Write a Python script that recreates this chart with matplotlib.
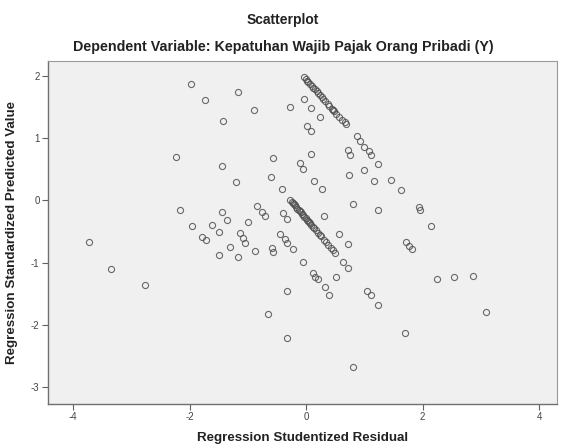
"""
SPSS style scatterplot: studentized residual vs standardized predicted value
"""

import matplotlib
matplotlib.use("Agg")
import matplotlib.pyplot as plt


# scattered points (residual, predicted)
resid_scatter = [
    -3.73, -3.35, -2.77, -2.24, -2.17, -1.98, -1.74, -1.95, -1.62, -1.45,
    -1.35, -1.50, -1.78, -1.72, -1.30, -1.50, -1.16, -1.14, -1.09, -1.05,
    -0.99, -0.85, -0.76, -0.71, -0.88, -0.59, -0.56, -0.45, -0.37, -0.32,
    -0.23, -0.39, -0.33, -0.06, 0.11, 0.15, 0.20, 0.32, 0.40, -0.32,
    -0.66, -0.32, 0.81, -1.45, -1.21, -1.42, -1.16, -0.90, -0.56, -0.61,
    -0.42, -0.11, -0.06, 0.09, 0.13, 0.27, -0.04, 0.09, -0.27, 0.23,
    0.01, 0.08, 0.87, 0.92, 1.00, 1.07, 1.12, 0.71, 0.76, 1.24,
    0.99, 0.73, 1.16, 1.45, 1.62, 1.93, 1.95, 2.15, 0.80, 1.23,
    0.30, 0.56, 0.71, 0.63, 0.71, 0.52, 1.05, 1.12, 1.24, 1.72,
    1.76, 1.81, 2.24, 2.53, 2.87, 3.08, 1.69,
]
pred_scatter = [
    -0.67, -1.10, -1.36, 0.70, -0.15, 1.88, 1.62, -0.41, -0.40, -0.19,
    -0.31, -0.51, -0.59, -0.64, -0.75, -0.88, -0.91, -0.52, -0.60, -0.69,
    -0.35, -0.09, -0.19, -0.25, -0.81, -0.77, -0.83, -0.54, -0.62, -0.69,
    -0.78, -0.20, -0.30, -0.99, -1.17, -1.23, -1.27, -1.40, -1.52, -1.46,
    -1.83, -2.22, -2.69, 0.56, 0.30, 1.28, 1.75, 1.46, 0.69, 0.38,
    0.19, 0.60, 0.51, 0.75, 0.31, 0.19, 1.64, 1.49, 1.51, 1.35,
    1.20, 1.12, 1.04, 0.96, 0.86, 0.80, 0.73, 0.81, 0.73, 0.59,
    0.49, 0.41, 0.31, 0.33, 0.17, -0.11, -0.15, -0.41, -0.06, -0.15,
    -0.25, -0.54, -0.70, -0.99, -1.09, -1.23, -1.46, -1.52, -1.69, -0.67,
    -0.73, -0.78, -1.27, -1.23, -1.22, -1.80, -2.14,
]

# upper dense diagonal band
resid_band1 = [-0.03, 0.00, 0.02, 0.04, 0.07, 0.10, 0.12, 0.15, 0.18, 0.20, 0.24,
               0.27, 0.29, 0.33, 0.37, 0.40, 0.44, 0.46, 0.48, 0.52, 0.57, 0.62,
               0.66, 0.69]
pred_band1 = [1.99, 1.96, 1.93, 1.91, 1.88, 1.85, 1.82, 1.79, 1.76, 1.73, 1.70,
              1.66, 1.64, 1.60, 1.56, 1.52, 1.48, 1.46, 1.44, 1.40, 1.35, 1.30,
              1.26, 1.23]

# lower dense diagonal band
resid_band2 = [-0.27, -0.25, -0.23, -0.21, -0.19, -0.17, -0.15, -0.13, -0.11,
               -0.09, -0.07, -0.05, -0.03, -0.01, 0.01, 0.03, 0.05, 0.07, 0.09,
               0.11, 0.14, 0.17, 0.20, 0.23, 0.26, 0.30, 0.34, 0.38, 0.42, 0.46,
               0.50]
pred_band2 = [0.01, -0.02, -0.04, -0.06, -0.08, -0.11, -0.13, -0.15, -0.17,
              -0.19, -0.22, -0.24, -0.26, -0.28, -0.31, -0.33, -0.35, -0.37,
              -0.40, -0.42, -0.45, -0.48, -0.52, -0.55, -0.58, -0.63, -0.67,
              -0.71, -0.76, -0.80, -0.85]

x_ticks = [-4, -2, 0, 2, 4]
y_ticks = [-3, -2, -1, 0, 1, 2]

TITLE = "Scatterplot"
SUBTITLE = "Dependent Variable: Kepatuhan Wajib Pajak Orang Pribadi (Y)"
X_LABEL = "Regression Studentized Residual"
Y_LABEL = "Regression Standardized Predicted Value"


def main():
    plt.rcParams["font.family"] = ["Liberation Sans", "DejaVu Sans"]
    # SPSS prints a plain hyphen for negative ticks
    plt.rcParams["axes.unicode_minus"] = False

    fig = plt.figure(figsize=(5.63, 4.44), dpi=100)
    ax = fig.add_axes([0.085, 0.090, 0.904, 0.773])
    ax.set_facecolor("#f0f0f0")

    # all points share the same open circle marker
    for xs, ys in [(resid_scatter, pred_scatter),
                   (resid_band1, pred_band1),
                   (resid_band2, pred_band2)]:
        ax.plot(xs, ys, linestyle="none", marker="o", markersize=4.4,
                markerfacecolor="none", markeredgecolor="#505050",
                markeredgewidth=0.8, alpha=0.85)

    ax.set_xlim(-4.43, 4.30)
    ax.set_ylim(-3.28, 2.25)
    ax.set_xticks(x_ticks)
    ax.set_yticks(y_ticks)
    ax.tick_params(direction="out", length=4, width=0.8, color="#606060",
                   labelsize=7, labelcolor="#444444", pad=2)

    for side in ["left", "bottom"]:
        ax.spines[side].set_color("#707070")
        ax.spines[side].set_linewidth(1.0)
    for side in ["top", "right"]:
        ax.spines[side].set_color("#9a9a9a")
        ax.spines[side].set_linewidth(0.8)

    ax.set_xlabel(X_LABEL, fontsize=9.6, fontweight="bold", color="#222222",
                  labelpad=7)
    ax.set_ylabel(Y_LABEL, fontsize=9.6, fontweight="bold", color="#222222",
                  labelpad=9)

    fig.text(0.503, 0.955, TITLE, ha="center", va="center", fontsize=10,
             fontweight="bold", color="#222222")
    fig.text(0.503, 0.894, SUBTITLE, ha="center", va="center", fontsize=10.3,
             fontweight="bold", color="#222222")

    fig.savefig("out.png", dpi=100)
    plt.close(fig)


if __name__ == "__main__":
    main()
